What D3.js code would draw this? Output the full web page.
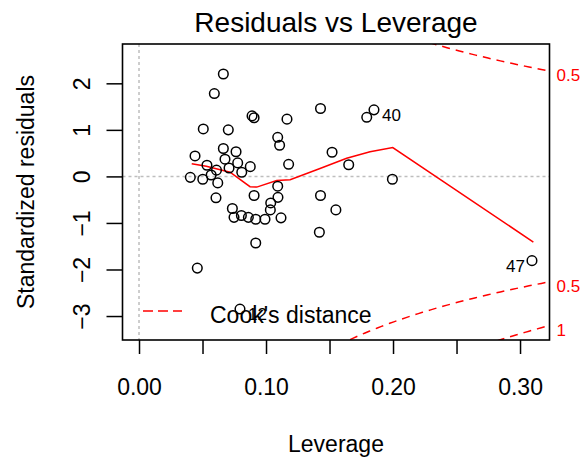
<!DOCTYPE html>
<html>
<head>
<meta charset="utf-8">
<script src="https://cdn.jsdelivr.net/npm/d3@7"></script>
<style>
  html, body { margin: 0; padding: 0; background: #fff; }
  svg { display: block; font-family: "Liberation Sans", Arial, Helvetica, sans-serif; }
</style>
</head>
<body>
<svg id="chart" width="586" height="457"></svg>
<script>
// ---- data ----
const leverage = [0.0664, 0.0593, 0.0890, 0.0906, 0.1165, 0.1429, 0.1850, 0.1793, 0.0506, 0.0703,
                  0.1092, 0.1107, 0.0664, 0.0764, 0.1520, 0.0441, 0.0677, 0.0777, 0.0535, 0.0876,
                  0.1178, 0.1651, 0.0709, 0.0809, 0.0610, 0.0568, 0.0404, 0.0502, 0.1995, 0.0620,
                  0.1092, 0.0606, 0.0906, 0.1094, 0.1037, 0.1034, 0.0735, 0.0748, 0.0806, 0.0861,
                  0.0919, 0.0992, 0.1118, 0.1429, 0.1550, 0.1420, 0.0919, 0.0459, 0.0795, 0.3094];
const stdResid = [2.20, 1.78, 1.30, 1.26, 1.23, 1.46, 1.43, 1.27, 1.02, 1.00,
                  0.84, 0.67, 0.60, 0.53, 0.52, 0.44, 0.37, 0.29, 0.24, 0.21,
                  0.26, 0.25, 0.18, 0.09, 0.135, 0.03, -0.02, -0.06, -0.06, -0.14,
                  -0.21, -0.46, -0.41, -0.45, -0.57, -0.72, -0.69, -0.88, -0.84, -0.88,
                  -0.92, -0.92, -0.89, -0.41, -0.72, -1.20, -1.43, -1.97, -2.85, -1.81];
const pointLabel = ["", "", "", "", "", "", "40", "", "", "",
                    "", "", "", "", "", "", "", "", "", "",
                    "", "", "", "", "", "", "", "", "", "",
                    "", "", "", "", "", "", "", "", "", "",
                    "", "", "", "", "", "", "", "", "12", "47"];
const smoothLev = [0.0415, 0.053, 0.0717, 0.0874, 0.0927, 0.1084, 0.119, 0.1425, 0.1635, 0.1819, 0.1998, 0.3105];
const smoothRes = [0.27, 0.22, 0.09, -0.22, -0.23, -0.09, -0.07, 0.17, 0.39, 0.53, 0.62, -1.41];
const xTicks = [0, 0.05, 0.10, 0.15, 0.20, 0.25, 0.30];
const xTickLabels = ["0.00", "", "0.10", "", "0.20", "", "0.30"];
const yTicks = [-3, -2, -1, 0, 1, 2];
const cookLevels = [0.5, 1];
const nParams = 4.9;
const xDomain = [-0.013, 0.3232];
const yDomain = [-3.515, 2.845];
const titleText = "Residuals vs Leverage";
const xLabel = "Leverage";
const yLabel = "Standardized residuals";
const legendText = "Cook's distance";

// ---- layout ----
const L = 122.5, R = 549.5, T = 44, B = 340;
const svg = d3.select("#chart");
const x = d3.scaleLinear().domain(xDomain).range([L, R]);
const y = d3.scaleLinear().domain(yDomain).range([B, T]);
const FS = 23;

svg.append("defs").append("clipPath").attr("id", "plotclip")
  .append("rect").attr("x", L).attr("y", T).attr("width", R - L).attr("height", B - T);

// reference lines
svg.append("line").attr("x1", L).attr("x2", R).attr("y1", y(0)).attr("y2", y(0))
  .attr("stroke", "#bebebe").attr("stroke-width", 1.5).attr("stroke-dasharray", "3,3");
svg.append("line").attr("x1", x(0)).attr("x2", x(0)).attr("y1", T).attr("y2", B)
  .attr("stroke", "#bebebe").attr("stroke-width", 1.5).attr("stroke-dasharray", "3,3");

// Cook's distance contours
const hStart = 0.0005;
const hh = d3.range(101).map(i => hStart + (xDomain[1] - hStart) * i / 100);
const cookG = svg.append("g").attr("clip-path", "url(#plotclip)");
const cline = d3.line().x(d => x(d[0])).y(d => y(d[1]));
cookLevels.forEach(c => {
  const up = hh.map(h => [h, Math.sqrt(c * nParams * (1 - h) / h)]);
  const dn = hh.map(h => [h, -Math.sqrt(c * nParams * (1 - h) / h)]);
  [up, dn].forEach(pts => {
    cookG.append("path").attr("d", cline(pts)).attr("fill", "none")
      .attr("stroke", "red").attr("stroke-width", 1.5).attr("stroke-dasharray", "8,6");
  });
});

// smooth line
svg.append("g").attr("clip-path", "url(#plotclip)").append("path")
  .attr("d", d3.line().x((d, i) => x(smoothLev[i])).y((d, i) => y(smoothRes[i]))(smoothLev))
  .attr("fill", "none").attr("stroke", "red").attr("stroke-width", 1.5);

// points
svg.append("g").selectAll("circle").data(leverage).join("circle")
  .attr("cx", (d, i) => x(leverage[i])).attr("cy", (d, i) => y(stdResid[i]))
  .attr("r", 4.8).attr("fill", "none").attr("stroke", "#000").attr("stroke-width", 1.5);

// point labels (placed right of the point unless beyond the middle of the labelled points)
const labelled = leverage.filter((d, i) => pointLabel[i]);
const midX = (d3.min(labelled) + d3.max(labelled)) / 2;
leverage.forEach((lv, i) => {
  if (!pointLabel[i]) return;
  const right = lv < midX;
  svg.append("text").attr("x", x(lv) + (right ? 8 : -7)).attr("y", y(stdResid[i]) + 11)
    .attr("text-anchor", right ? "start" : "end").attr("font-size", 17).attr("fill", "#000")
    .text(pointLabel[i]);
});

// Cook's level labels on the right
cookLevels.forEach(c => {
  const h = xDomain[1];
  const v = Math.sqrt(c * nParams * (1 - h) / h);
  [v, -v].forEach(val => {
    const py = y(val);
    if (py < T - 1 || py > B + 1) return;
    svg.append("text").attr("x", R + 7).attr("y", py + 10.5).attr("font-size", 17)
      .attr("fill", "red").text(String(c));
  });
});

// axes
const xAxis = svg.append("g").attr("transform", `translate(0,${B})`)
  .call(d3.axisBottom(x).tickValues(xTicks).tickSize(14).tickFormat((d, i) => xTickLabels[i]));
xAxis.select(".domain").remove();
xAxis.selectAll("line").attr("stroke", "#000").attr("stroke-width", 1.5);
xAxis.selectAll("text").attr("y", 55).attr("dy", 0).attr("font-size", FS)
  .attr("fill", "#000").attr("font-family", "Liberation Sans, Arial, sans-serif");

const yAxis = svg.append("g").attr("transform", `translate(${L},0)`)
  .call(d3.axisLeft(y).tickValues(yTicks).tickSize(16).tickFormat(d3.format("d")));
yAxis.select(".domain").remove();
yAxis.selectAll("line").attr("stroke", "#000").attr("stroke-width", 1.5);
yAxis.selectAll("text").attr("x", 0).attr("dy", 0).attr("y", 0)
  .attr("transform", "translate(-33,0) rotate(-90)").attr("text-anchor", "middle")
  .attr("font-size", FS).attr("fill", "#000").attr("font-family", "Liberation Sans, Arial, sans-serif");

// box
svg.append("rect").attr("x", L).attr("y", T).attr("width", R - L).attr("height", B - T)
  .attr("fill", "none").attr("stroke", "#000").attr("stroke-width", 1.6);

// titles
svg.append("text").attr("x", (L + R) / 2).attr("y", 31.5).attr("text-anchor", "middle")
  .attr("font-size", 28).text(titleText);
svg.append("text").attr("x", (L + R) / 2).attr("y", 451.5).attr("text-anchor", "middle")
  .attr("font-size", FS).text(xLabel);
svg.append("text").attr("transform", `translate(33.5,${(T + B) / 2}) rotate(-90)`)
  .attr("text-anchor", "middle").attr("font-size", FS).text(yLabel);

// legend
svg.append("line").attr("x1", 143).attr("x2", 182).attr("y1", 311).attr("y2", 311)
  .attr("stroke", "red").attr("stroke-width", 1.5).attr("stroke-dasharray", "10,5");
svg.append("text").attr("x", 210).attr("y", 323).attr("font-size", FS).text(legendText);
</script>
</body>
</html>
